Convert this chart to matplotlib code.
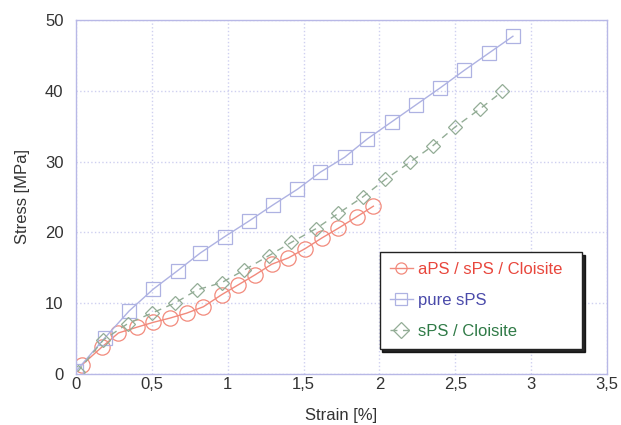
import matplotlib
matplotlib.use("Agg")
import matplotlib.pyplot as plt
from matplotlib.ticker import FuncFormatter

plt.rcParams['font.family'] = ['Liberation Sans', 'DejaVu Sans']

# aPS / sPS / Cloisite
red_x = [0.04, 0.17, 0.28, 0.40, 0.51, 0.62, 0.73, 0.84, 0.96, 1.07, 1.18, 1.29,
         1.40, 1.51, 1.62, 1.73, 1.85, 1.96]
red_y = [1.3, 3.8, 5.8, 6.6, 7.3, 7.9, 8.6, 9.5, 11.2, 12.6, 14.0, 15.5,
         16.4, 17.7, 19.2, 20.6, 22.2, 23.7]

# pure sPS
blue_x = [0.0, 0.19, 0.35, 0.51, 0.67, 0.82, 0.98, 1.14, 1.30, 1.46, 1.61, 1.77,
          1.92, 2.08, 2.24, 2.40, 2.56, 2.72, 2.88]
blue_y = [0.4, 5.1, 8.9, 12.0, 14.6, 17.1, 19.4, 21.6, 23.9, 26.1, 28.5, 30.6,
          33.2, 35.6, 38.0, 40.4, 42.9, 45.3, 47.7]

# sPS / Cloisite
green_x = [0.01, 0.18, 0.34, 0.50, 0.65, 0.80, 0.96, 1.11, 1.27, 1.42, 1.58, 1.73,
           1.89, 2.04, 2.20, 2.35, 2.50, 2.66, 2.81]
green_y = [0.3, 4.8, 7.1, 8.6, 10.0, 11.9, 12.9, 14.7, 16.7, 18.6, 20.5, 22.7,
           25.0, 27.5, 29.9, 32.2, 34.9, 37.4, 39.9]

labels = ["aPS / sPS / Cloisite", "pure sPS", "sPS / Cloisite"]
x_ticks = [0, 0.5, 1, 1.5, 2, 2.5, 3, 3.5]
y_ticks = [0, 10, 20, 30, 40, 50]

fig = plt.figure(figsize=(6.21, 4.25), dpi=100)
ax = fig.add_axes([0.1224, 0.12, 0.855, 0.833])

red_c = '#f28a7c'
blue_c = '#aeb2e2'
green_c = '#93ad96'

ax.plot(red_x, red_y, '-', color=red_c, lw=1.0, marker='o', ms=11,
        mfc='none', mec=red_c, mew=0.9, label=labels[0])
ax.plot(blue_x, blue_y, '-', color=blue_c, lw=1.0, marker='s', ms=10,
        mfc='none', mec=blue_c, mew=0.9, label=labels[1])
ax.plot(green_x, green_y, '--', color=green_c, lw=1.0, marker='D', ms=7,
        mfc='none', mec=green_c, mew=0.9, dashes=(5, 4), label=labels[2])

ax.set_xlim(0, 3.5)
ax.set_ylim(0, 50)
ax.set_xticks(x_ticks)
ax.set_yticks(y_ticks)
ax.xaxis.set_major_formatter(FuncFormatter(lambda v, p: ('%g' % v).replace('.', ',')))
ax.tick_params(length=0, labelsize=12, colors='#333333')
ax.tick_params(axis='x', pad=2)
ax.tick_params(axis='y', pad=9)
ax.grid(True, color='#cfd0f0', linestyle=':', linewidth=1.0)
for s in ax.spines.values():
    s.set_color('#b8b8e6')
    s.set_linewidth(1.0)

ax.set_xlabel('Strain [%]', fontsize=12, color='#333333', labelpad=12)
ax.set_ylabel('Stress [MPa]', fontsize=12, color='#333333', labelpad=11)

leg = ax.legend(loc='lower left', bbox_to_anchor=(0.572, 0.071, 0.381, 0.271),
                mode='expand', fontsize=12, frameon=True, fancybox=False,
                shadow={'color': 'black', 'alpha': 0.85},
                handlelength=1.4, handletextpad=0.3,
                borderaxespad=0, labelspacing=0.95, borderpad=0.6)
leg.get_frame().set_edgecolor('#222222')
leg.get_frame().set_linewidth(1.0)
text_cols = ['#e8463c', '#4a4aaa', '#2f7a46']
for t, c in zip(leg.get_texts(), text_cols):
    t.set_color(c)
for h in leg.legend_handles:
    h.set_markersize(8)

fig.savefig('out.png', dpi=100)
